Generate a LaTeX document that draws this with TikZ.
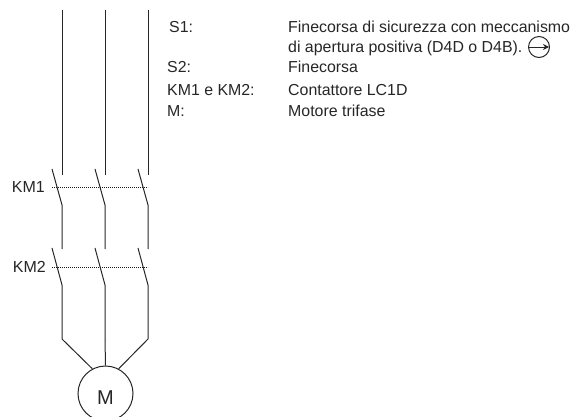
\documentclass[tikz,border=0pt]{standalone}
\usepackage{fontspec}
\setmainfont{Liberation Sans}
\usetikzlibrary{arrows.meta}
\tikzset{
  wire/.style={draw=black!85,line width=1pt},
  link/.style={draw=black!90,line width=1pt,dash pattern=on 1.2pt off 0.8pt},
  txt/.style={inner sep=0pt,anchor=base west,font=\fontsize{15.9}{18}\selectfont,text=black!85},
  lab/.style={inner sep=0pt,anchor=base east,font=\fontsize{16}{18}\selectfont,text=black!85}
}
\begin{document}
\begin{tikzpicture}[x=1pt,y=-1pt]
\useasboundingbox (0,0) rectangle (575,416);
\begin{scope}
\clip (0,0) rectangle (575,416);
\node[circle,draw=black!85,line width=1pt,minimum size=55pt,inner sep=0pt] (M) at (105.5,393.5) {};
\end{scope}
\node[inner sep=0pt,anchor=base,font=\fontsize{20}{22}\selectfont,text=black!85] (Mt) at (105.5,404) {M};
\foreach \n/\x in {a/62,b/105,c/148}{
  \coordinate (t\n) at (\x,10);
  \coordinate (u\n) at (\x,175);
  \coordinate (s\n) at (\x-10,169);
  \coordinate (v\n) at (\x,205);
  \coordinate (w\n) at (\x,249);
  \coordinate (r\n) at (\x-10,248);
  \coordinate (y\n) at (\x,285);
  \coordinate (z\n) at (\x,339);
  \draw[wire] (t\n) -- (u\n);
  \draw[wire] (s\n) -- (v\n) -- (w\n);
  \draw[wire] (r\n) -- (y\n) -- (z\n);
}
\coordinate (l1a) at (52,187);
\coordinate (l1b) at (148,187);
\coordinate (l2a) at (52,267);
\coordinate (l2b) at (148,267);
\draw[link] (l1a) -- (l1b);
\draw[link] (l2a) -- (l2b);
\draw[wire] (za) -- (M.118);
\draw[wire] (zb) -- (M.north);
\draw[wire] (zc) -- (M.62);
\node[lab] (km1) at (45,192) {KM1};
\node[lab] (km2) at (46,272) {KM2};
\node[txt] (n1) at (169,32) {S1:};
\node[txt] (n2) at (167,72) {S2:};
\node[txt] (n3) at (167,95) {KM1 e KM2:};
\node[txt] (n4) at (167,116) {M:};
\node[txt] (d1) at (288,32) {Finecorsa di sicurezza con meccanismo};
\node[txt] (d2) at (288,52) {di apertura positiva (D4D o D4B).};
\node[txt] (d3) at (288,72) {Finecorsa};
\node[txt] (d4) at (288,95) {Contattore LC1D};
\node[txt] (d5) at (288,116) {Motore trifase};
\node[circle,draw=black!85,line width=1pt,minimum size=21pt,inner sep=0pt] (sym) at (539,47) {};
\draw[draw=black!85,line width=1pt,-{Stealth[length=6pt,width=6pt]}] (sym.west) -- ([xshift=-1pt]sym.east);
\end{tikzpicture}
\end{document}
